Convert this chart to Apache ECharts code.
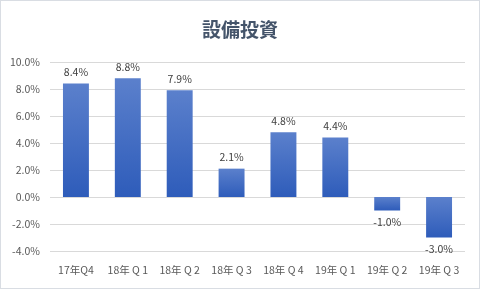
<!DOCTYPE html>
<html><head><meta charset="utf-8">
<script src="https://cdn.jsdelivr.net/npm/echarts@6/dist/echarts.min.js"></script>
<style>html,body{margin:0;padding:0;background:#fff}#c{width:478px;height:287px;border:1px solid #d9dde3}</style>
</head><body><div id="c"></div>
<script>
const categories = ['17年Q4','18年 Q 1','18年 Q 2','18年 Q 3','18年 Q 4','19年 Q 1','19年 Q 2','19年 Q 3'];
const values = [8.4, 8.8, 7.9, 2.1, 4.8, 4.4, -1.0, -3.0];
const yTicks = {min: -4, max: 10, interval: 2};
const chart = echarts.init(document.getElementById('c'));
const font = '"Noto Sans CJK JP", "Noto Sans", sans-serif';
chart.setOption({
  animation: false,
  title: {text: '設備投資', left: 'center', top: 14, textStyle: {fontFamily: font, fontSize: 19, fontWeight: 'bold', color: '#44546a'}},
  grid: {left: 49, right: 14, top: 61, bottom: 37},
  xAxis: {type: 'category', data: categories, axisLine: {show: false}, axisTick: {show: false},
    axisLabel: {interval: 0, fontFamily: font, fontSize: 10.5, color: '#595959', margin: 14}},
  yAxis: {type: 'value', min: yTicks.min, max: yTicks.max, interval: yTicks.interval,
    axisLabel: {formatter: v => v.toFixed(1) + '%', fontFamily: font, fontSize: 10.5, color: '#595959', margin: 10},
    splitLine: {lineStyle: {color: '#d9d9d9'}}, axisLine: {show: false}, axisTick: {show: false}},
  series: [{type: 'bar', barWidth: '50%',
    data: values.map(v => ({value: v, label: {position: v >= 0 ? 'top' : 'bottom'}})),
    itemStyle: {color: new echarts.graphic.LinearGradient(0, 0, 0, 1, [{offset: 0, color: '#5b80cc'}, {offset: 1, color: '#2e5cba'}])},
    label: {show: true, formatter: p => p.value.toFixed(1) + '%', fontFamily: font, fontSize: 10.5, color: '#404040', distance: 6}
  }]
});
</script></body></html>
